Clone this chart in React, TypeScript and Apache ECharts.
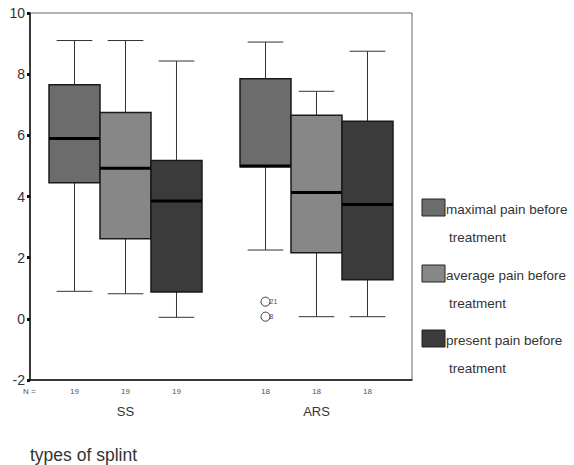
import React, { useEffect, useRef } from "react";
import * as echarts from "echarts";

const categories = ["SS", "ARS"];
// [min, Q1, median, Q3, max] per category
const maximalPain = [
  [0.9, 4.45, 5.9, 7.65, 9.1],
  [2.25, 4.97, 5.0, 7.85, 9.05],
];
const averagePain = [
  [0.82, 2.62, 4.92, 6.75, 9.1],
  [0.07, 2.16, 4.13, 6.66, 7.44],
];
const presentPain = [
  [0.05, 0.88, 3.85, 5.18, 8.43],
  [0.07, 1.28, 3.74, 6.46, 8.75],
];
const nCounts = [19, 18];
// [categoryIndex, value, case label] — outliers of maximal pain
const outliers: [number, number, string][] = [
  [1, 0.56, "21"],
  [1, 0.07, "8"],
];
const yTicks = { min: -2, max: 10, interval: 2 };

const seriesNames = [
  "maximal pain before treatment",
  "average pain before treatment",
  "present pain before treatment",
];
const seriesColors = ["#6c6c6c", "#878787", "#3b3b3b"];
const FONT = "'Liberation Sans', Arial, sans-serif";
const BOX_FRAC = 0.267;

export default function App() {
  const ref = useRef<HTMLDivElement>(null);
  useEffect(() => {
    document.body.style.margin = "0";
    const chart = echarts.init(ref.current!, null, { renderer: "svg" });
    const allSeries = [maximalPain, averagePain, presentPain];

    const boxSeries = allSeries.map((vals, sIdx) => ({
      type: "custom",
      name: seriesNames[sIdx],
      clip: false,
      data: vals.map((v, ci) => [ci, ...v, nCounts[ci]]),
      renderItem: (params: any, api: any) => {
        const cat = api.value(0);
        const mn = api.value(1), q1 = api.value(2), md = api.value(3), q3 = api.value(4), mx = api.value(5);
        const n = api.value(6);
        const band = api.size([1, 0])[0];
        const w = band * BOX_FRAC;
        const cx = api.coord([cat, md])[0] + (sIdx - 1) * w;
        const y = (v: number) => api.coord([cat, v])[1];
        const capW = w * 0.7;
        const bottom = y(yTicks.min);
        const lineStyle = { stroke: "#333", lineWidth: 1 };
        return {
          type: "group",
          children: [
            { type: "line", shape: { x1: cx, y1: y(q3), x2: cx, y2: y(mx) }, style: lineStyle },
            { type: "line", shape: { x1: cx, y1: y(q1), x2: cx, y2: y(mn) }, style: lineStyle },
            { type: "line", shape: { x1: cx - capW / 2, y1: y(mx), x2: cx + capW / 2, y2: y(mx) }, style: lineStyle },
            { type: "line", shape: { x1: cx - capW / 2, y1: y(mn), x2: cx + capW / 2, y2: y(mn) }, style: lineStyle },
            {
              type: "rect",
              shape: { x: cx - w / 2, y: y(q3), width: w, height: y(q1) - y(q3) },
              style: { fill: seriesColors[sIdx], stroke: "#1a1a1a", lineWidth: 1.5 },
            },
            {
              type: "line",
              shape: { x1: cx - w / 2, y1: y(md), x2: cx + w / 2, y2: y(md) },
              style: { stroke: "#000", lineWidth: 3 },
            },
            {
              type: "text",
              style: {
                x: cx, y: bottom + 11, text: String(n), fill: "#555",
                font: `8px ${FONT}`, align: "center", verticalAlign: "middle",
              },
            },
          ],
        };
      },
    }));

    const outlierSeries = {
      type: "custom",
      name: "outliers",
      clip: false,
      data: outliers.map((o) => [o[0], o[1]]),
      renderItem: (params: any, api: any) => {
        const cat = api.value(0);
        const v = api.value(1);
        const band = api.size([1, 0])[0];
        const w = band * BOX_FRAC;
        const p = api.coord([cat, v]);
        const cx = p[0] - w;
        const label = outliers[params.dataIndex][2];
        return {
          type: "group",
          children: [
            { type: "circle", shape: { cx, cy: p[1], r: 4.5 }, style: { fill: "#fff", stroke: "#333", lineWidth: 1 } },
            {
              type: "text",
              style: { x: cx + 4, y: p[1], text: label, fill: "#555", font: `7px ${FONT}`, verticalAlign: "middle" },
            },
          ],
        };
      },
    };

    const legendChildren: any[] = [];
    const legendTops = [199, 265, 330];
    seriesNames.forEach((name, i) => {
      const t = legendTops[i];
      const words = name.split(" ");
      legendChildren.push({
        type: "rect",
        shape: { x: 422, y: t, width: 23, height: 17 },
        style: { fill: seriesColors[i], stroke: "#222", lineWidth: 1 },
      });
      legendChildren.push({
        type: "text",
        style: { x: 446, y: t + 10, text: words.slice(0, 3).join(" "), fill: "#333", font: `13.5px ${FONT}`, verticalAlign: "middle" },
      });
      legendChildren.push({
        type: "text",
        style: { x: 449, y: t + 38, text: words.slice(3).join(" "), fill: "#333", font: `13.5px ${FONT}`, verticalAlign: "middle" },
      });
    });

    chart.setOption({
      animation: false,
      grid: { left: 30, right: 162, top: 13, bottom: 85, show: true, borderColor: "#666", borderWidth: 1 },
      xAxis: {
        type: "category",
        data: categories,
        axisLine: { onZero: false, lineStyle: { color: "#111", width: 1.5 } },
        axisTick: { alignWithLabel: true, length: 3, lineStyle: { width: 3, color: "#111" } },
        axisLabel: { margin: 25, fontSize: 13, color: "#333", fontFamily: FONT },
        splitLine: { show: false },
      },
      yAxis: {
        type: "value",
        min: yTicks.min,
        max: yTicks.max,
        interval: yTicks.interval,
        axisLine: { show: true, lineStyle: { color: "#111", width: 1.5 } },
        axisTick: { show: true, length: 3, lineStyle: { width: 3, color: "#111" } },
        axisLabel: { margin: 5, fontSize: 14, color: "#333", fontFamily: FONT },
        splitLine: { show: false },
      },
      series: [...boxSeries, outlierSeries],
      graphic: [
        {
          type: "text",
          left: 23,
          top: 387,
          style: { text: "N =", fill: "#555", font: `8px ${FONT}` },
        },
        {
          type: "text",
          left: 30,
          top: 446,
          style: { text: "types of splint", fill: "#333", font: `17.5px ${FONT}` },
        },
        ...legendChildren,
      ],
    });
    return () => chart.dispose();
  }, []);
  return <div ref={ref} style={{ width: 574, height: 465 }} />;
}
